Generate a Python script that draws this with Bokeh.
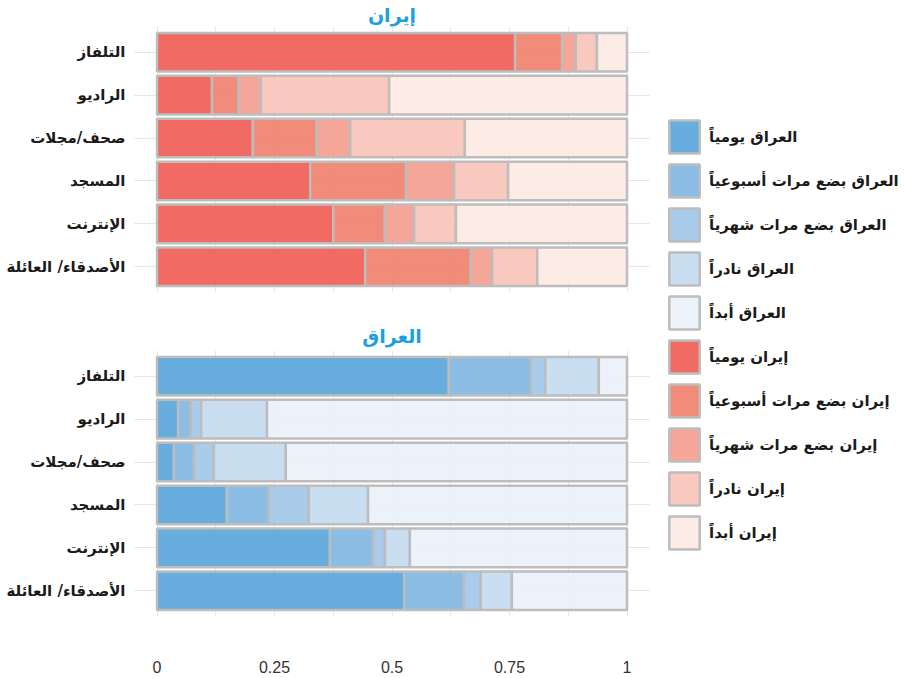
import pandas as pd
from bokeh.plotting import figure
from bokeh.models import (FactorRange, Range1d, FixedTicker, ColumnDataSource, Legend,
                          LegendItem)
from bokeh.layouts import row, column
from bokeh.embed import file_html
from bokeh.resources import INLINE

categories = ["التلفاز", "الراديو", "صحف/مجلات", "المسجد", "الإنترنت", "الأصدقاء/ العائلة"]
levels = ["يومياً", "بضع مرات أسبوعياً", "بضع مرات شهرياً", "نادراً", "أبداً"]
country_iran = "إيران"
country_iraq = "العراق"

iran_daily = [0.762, 0.117, 0.204, 0.326, 0.375, 0.443]
iran_weekly = [0.100, 0.057, 0.136, 0.204, 0.110, 0.225]
iran_monthly = [0.029, 0.047, 0.071, 0.102, 0.062, 0.045]
iran_rarely = [0.045, 0.273, 0.244, 0.115, 0.089, 0.096]
iran_never = [0.064, 0.506, 0.345, 0.253, 0.364, 0.191]

iraq_daily = [0.621, 0.045, 0.036, 0.149, 0.368, 0.526]
iraq_weekly = [0.175, 0.027, 0.043, 0.089, 0.092, 0.127]
iraq_monthly = [0.030, 0.022, 0.042, 0.085, 0.025, 0.036]
iraq_rarely = [0.114, 0.140, 0.153, 0.126, 0.053, 0.066]
iraq_never = [0.060, 0.766, 0.726, 0.551, 0.462, 0.245]

tick_values = [0, 0.25, 0.5, 0.75, 1]
tick_labels = ["0", "0.25", "0.5", "0.75", "1"]
minor_values = [0.125, 0.375, 0.625, 0.875]

iran_colors = ["#EF5B53", "#EF7F6D", "#F49C8E", "#F8C3B8", "#FDE9E3"]
iraq_colors = ["#57A4DA", "#7FB6E2", "#A1C6E9", "#C4DAF1", "#E9F1F9"]

BORDER = "#bdbdbd"
GRID = "#e6e6e6"
TITLE_COLOR = "#1d9fe0"
AR_FONT = "DejaVu Sans"
ALPHA = 0.9

stack_keys = ["daily", "weekly", "monthly", "rarely", "never"]


def make_chart(title, series, colors, height, show_x, top_border, title_standoff):
    df = pd.DataFrame(dict(zip(stack_keys, series)))
    df["cat"] = categories
    src = ColumnDataSource(df)
    p = figure(
        width=655, height=height,
        y_range=FactorRange(*list(reversed(categories)), range_padding=0.2 / 6),
        x_range=Range1d(-0.05, 1.05),
        output_backend="svg", toolbar_location=None,
        min_border_left=133, min_border_right=5, min_border_top=top_border,
        min_border_bottom=62 if show_x else 26,
    )
    p.title.text = title
    p.title.align = "center"
    p.title.text_color = TITLE_COLOR
    p.title.text_font = AR_FONT
    p.title.text_font_size = "19px"
    p.title.text_font_style = "bold"
    p.title.standoff = title_standoff
    p.title.offset = 0

    p.hbar_stack(stack_keys, y="cat", height=0.9, source=src,
                 fill_color=colors, fill_alpha=ALPHA,
                 line_color=BORDER, line_width=2.5)

    p.outline_line_color = None
    p.xaxis.ticker = FixedTicker(ticks=tick_values, minor_ticks=minor_values)
    p.xgrid.ticker = FixedTicker(ticks=tick_values, minor_ticks=minor_values)
    p.xgrid.grid_line_color = GRID
    p.xgrid.minor_grid_line_color = GRID
    p.ygrid.grid_line_color = GRID
    p.xaxis.major_label_overrides = {v: l for v, l in zip(tick_values, tick_labels)}
    p.xaxis.axis_line_color = None
    p.xaxis.major_tick_line_color = None
    p.xaxis.minor_tick_line_color = None
    p.xaxis.major_label_standoff = 38
    p.xaxis.major_label_text_font = "Liberation Sans"
    p.xaxis.major_label_text_font_size = "16px"
    p.xaxis.major_label_text_color = "#333333"
    p.xaxis.visible = show_x

    p.yaxis.axis_line_color = None
    p.yaxis.major_tick_line_color = None
    p.yaxis.major_label_standoff = 2
    p.yaxis.major_label_text_font = AR_FONT
    p.yaxis.major_label_text_font_style = "bold"
    p.yaxis.major_label_text_font_size = "15px"
    p.yaxis.major_label_text_color = "#1a1a1a"
    return p


p1 = make_chart(country_iran,
                [iran_daily, iran_weekly, iran_monthly, iran_rarely, iran_never],
                iran_colors, 318, False, 25, 2)
p2 = make_chart(country_iraq,
                [iraq_daily, iraq_weekly, iraq_monthly, iraq_rarely, iraq_never],
                iraq_colors, 360, True, 32, 7)

# legend panel: hidden swatch renderers (not shown in the plot), legend only
p3 = figure(width=249, height=678, x_range=Range1d(0, 1), y_range=Range1d(0, 1),
            output_backend="svg", toolbar_location=None, min_border=0)
p3.axis.visible = False
p3.grid.visible = False
p3.outline_line_color = None

items = []
for country, cols in [(country_iraq, iraq_colors), (country_iran, iran_colors)]:
    for lvl, c in zip(levels, cols):
        src = ColumnDataSource(dict(y=[0], right=[0]))
        r = p3.hbar(y="y", right="right", height=0.1, source=src,
                    fill_color=c, fill_alpha=ALPHA,
                    line_color=BORDER, line_width=2.5, visible=False)
        items.append(LegendItem(label=f"{country} {lvl}", renderers=[r]))

leg = Legend(items=items, location=(10, 125))
leg.margin = 0
leg.padding = 0
leg.spacing = 3
leg.glyph_width = 38
leg.glyph_height = 41
leg.label_standoff = 6
leg.label_text_font = AR_FONT
leg.label_text_font_style = "bold"
leg.label_text_font_size = "15px"
leg.label_text_color = "#1a1a1a"
leg.border_line_color = None
leg.background_fill_alpha = 0
leg.inactive_fill_alpha = 0
p3.add_layout(leg, "center")

layout = row(column(p1, p2), p3)
open("out.html", "w").write(file_html(layout, INLINE))
